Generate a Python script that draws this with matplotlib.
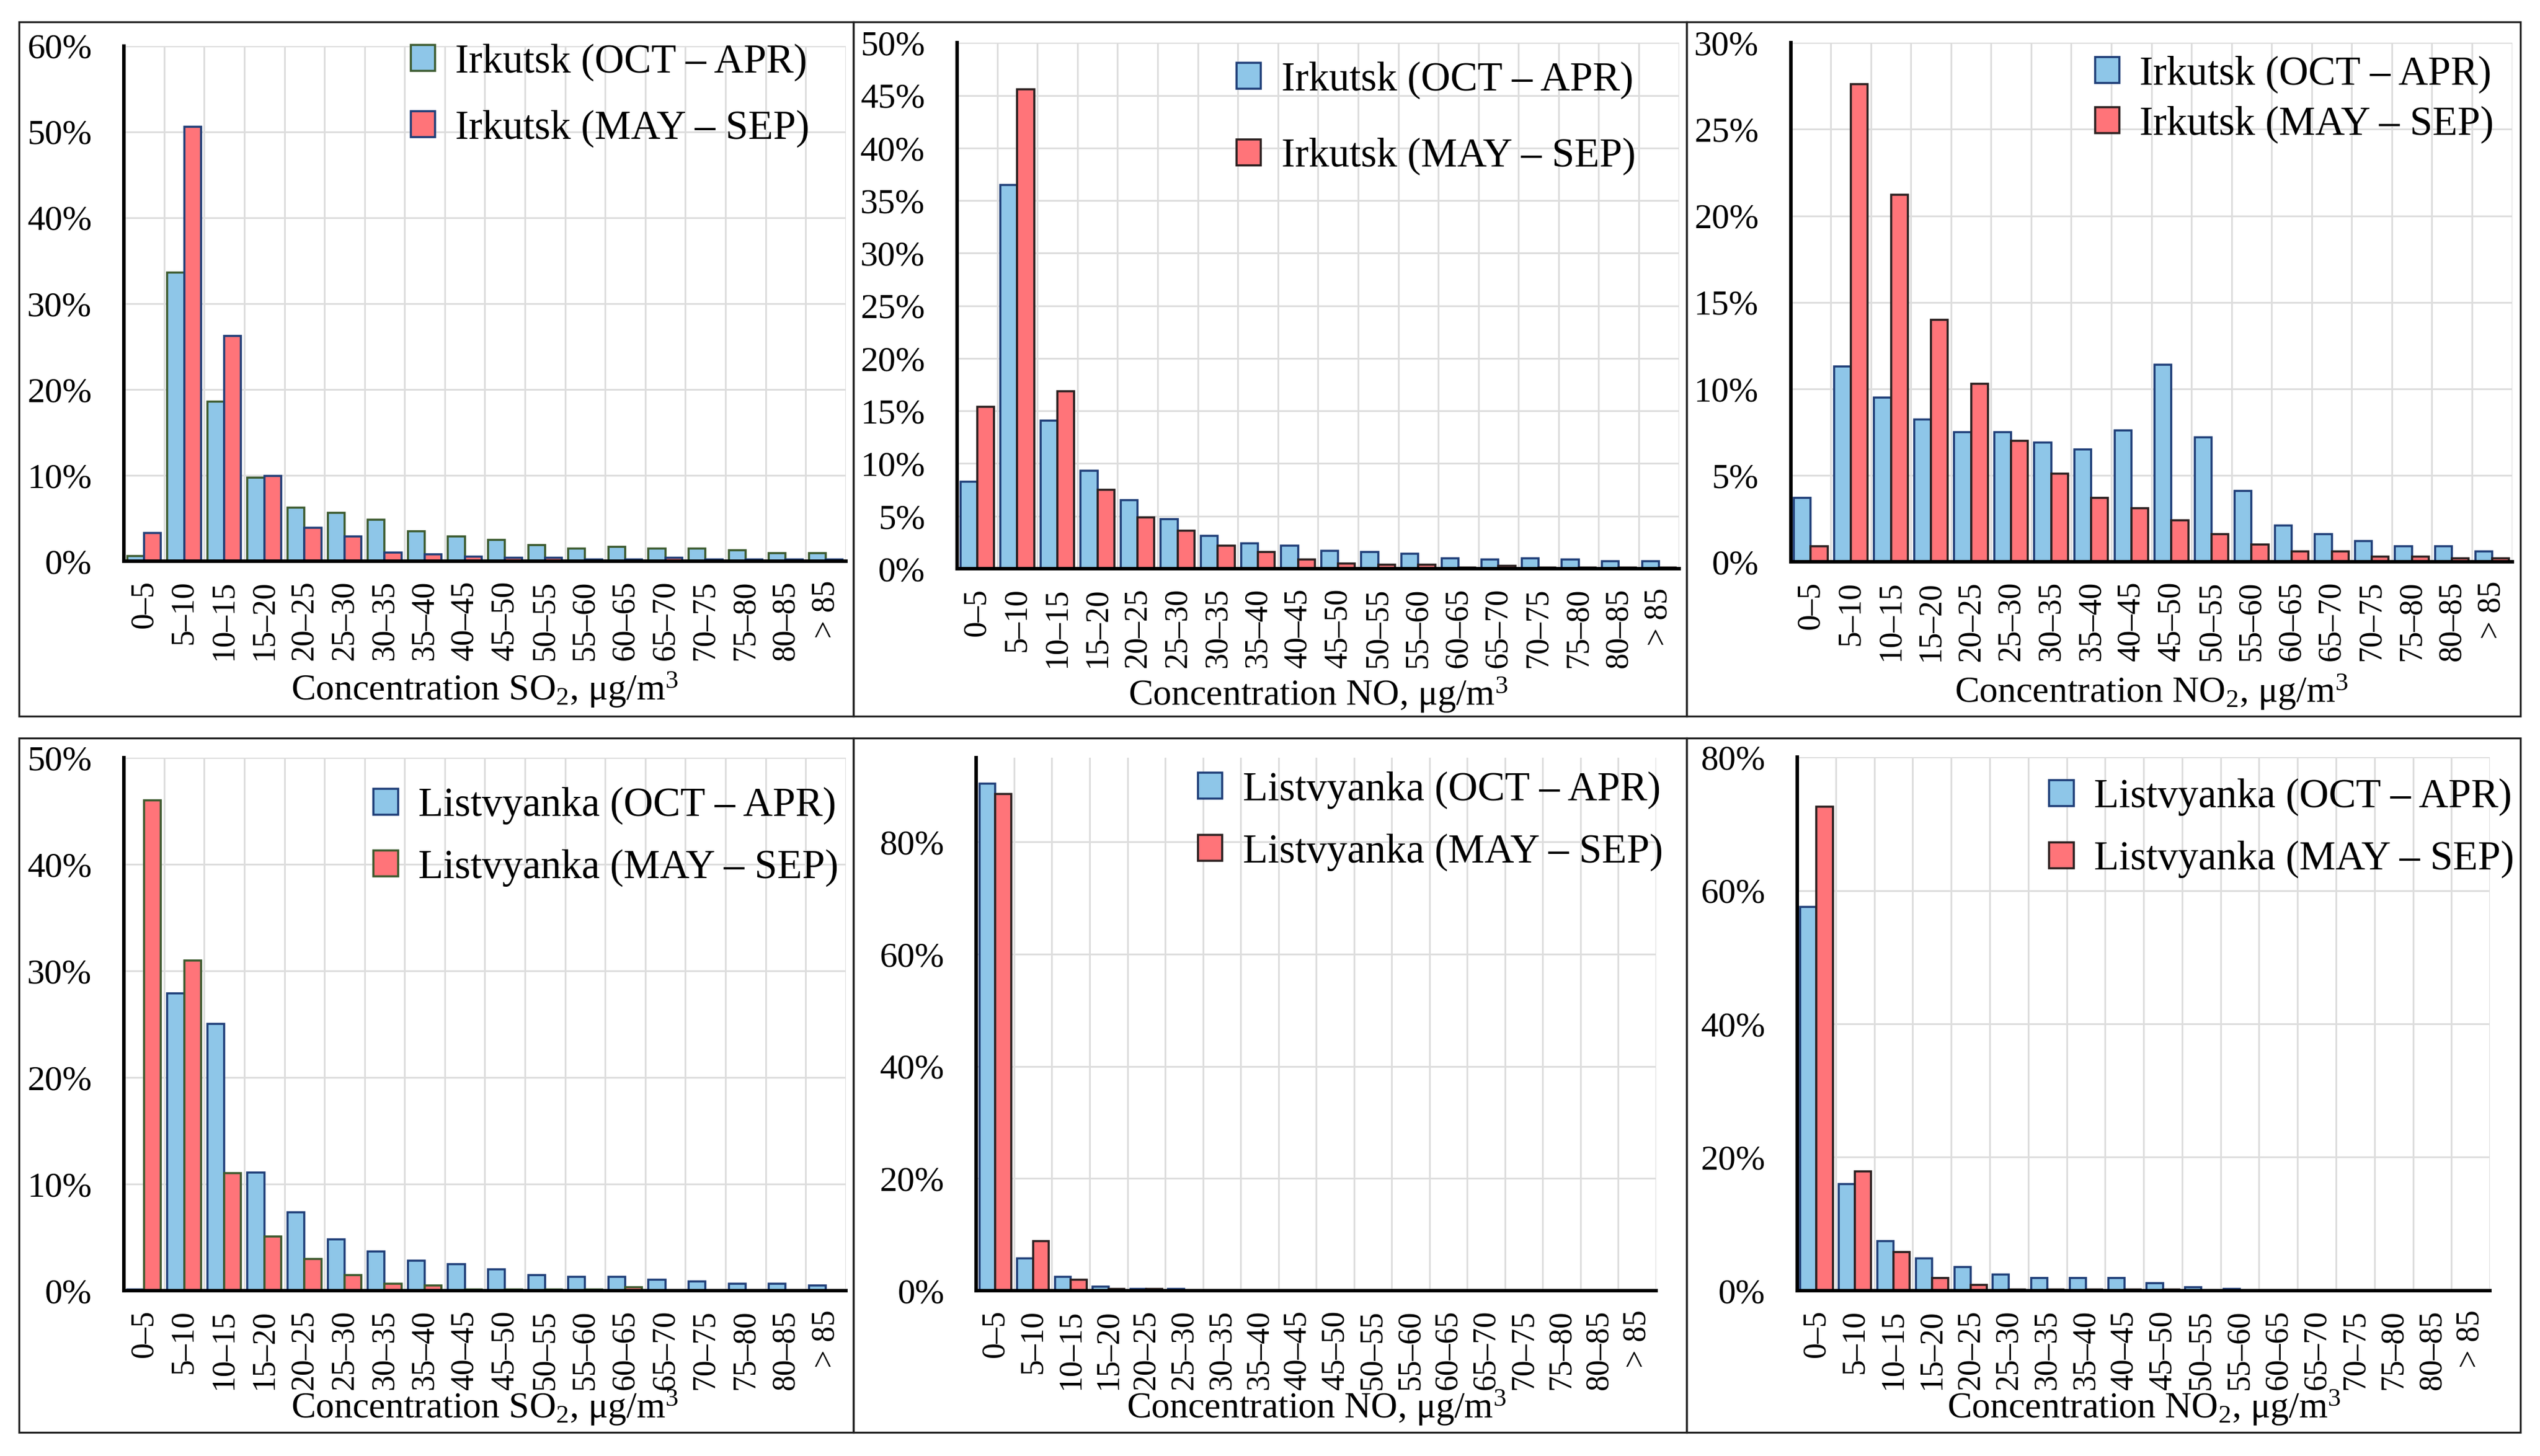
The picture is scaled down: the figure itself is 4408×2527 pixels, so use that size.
import matplotlib
matplotlib.use('Agg')
import matplotlib.pyplot as plt
import numpy as np
from matplotlib.patches import Rectangle
from matplotlib.ticker import PercentFormatter, MultipleLocator

plt.rcParams['font.family'] = ['Liberation Serif', 'DejaVu Serif']
plt.rcParams['mathtext.fontset'] = 'custom'
plt.rcParams['mathtext.rm'] = 'Liberation Serif'
plt.rcParams['mathtext.it'] = 'Liberation Serif:italic'

categories = ['0–5', '5–10', '10–15', '15–20', '20–25', '25–30', '30–35', '35–40', '40–45',
              '45–50', '50–55', '55–60', '60–65', '65–70', '70–75', '75–80', '80–85', '> 85']

# values in percent
irk_so2_cold = [0.6, 33.6, 18.6, 9.7, 6.2, 5.6, 4.8, 3.5, 2.9, 2.5, 1.9, 1.5, 1.7, 1.5, 1.5, 1.3, 0.9, 0.9]
irk_so2_warm = [3.3, 50.6, 26.2, 9.9, 3.9, 2.9, 1.0, 0.8, 0.5, 0.4, 0.4, 0.2, 0.2, 0.4, 0.2, 0.2, 0.2, 0.2]

irk_no_cold = [8.3, 36.5, 14.1, 9.3, 6.5, 4.7, 3.1, 2.4, 2.2, 1.7, 1.6, 1.4, 1.0, 0.9, 1.0, 0.9, 0.7, 0.7]
irk_no_warm = [15.4, 45.6, 16.9, 7.5, 4.9, 3.6, 2.2, 1.6, 0.9, 0.5, 0.4, 0.4, 0.1, 0.3, 0.1, 0.1, 0.1, 0.1]

irk_no2_cold = [3.7, 11.3, 9.5, 8.25, 7.5, 7.5, 6.9, 6.5, 7.6, 11.4, 7.2, 4.1, 2.1, 1.6, 1.2, 0.9, 0.9, 0.6]
irk_no2_warm = [0.9, 27.6, 21.2, 14.0, 10.3, 7.0, 5.1, 3.7, 3.1, 2.4, 1.6, 1.0, 0.6, 0.6, 0.3, 0.3, 0.2, 0.2]

lis_so2_cold = [0.1, 27.9, 25.0, 11.1, 7.35, 4.8, 3.65, 2.8, 2.5, 2.0, 1.45, 1.3, 1.3, 1.0, 0.85, 0.65, 0.65, 0.5]
lis_so2_warm = [46.0, 31.0, 11.0, 5.1, 2.95, 1.45, 0.65, 0.5, 0.1, 0.1, 0.1, 0.1, 0.3, 0, 0, 0, 0, 0]

lis_no_cold = [90.4, 5.7, 2.5, 0.7, 0.35, 0.3, 0, 0, 0, 0, 0, 0, 0, 0, 0, 0, 0, 0]
lis_no_warm = [88.5, 8.85, 1.9, 0.3, 0.3, 0.1, 0, 0, 0, 0, 0, 0, 0, 0, 0, 0, 0, 0]

lis_no2_cold = [57.5, 16.0, 7.45, 4.8, 3.5, 2.4, 1.9, 1.9, 1.9, 1.1, 0.55, 0.25, 0, 0, 0, 0, 0, 0]
lis_no2_warm = [72.6, 17.9, 5.8, 1.9, 0.85, 0.2, 0.15, 0.15, 0.15, 0.15, 0.1, 0, 0, 0, 0, 0, 0, 0]

blue = '#8EC6E8'
red = '#FF7479'
dkblue = '#1F3E78'
dkgreen = '#3C5A2E'
dkred = '#2A2020'

xlab_so2 = 'Concentration SO$_2$, μg/m$^3$'
xlab_no = 'Concentration NO, μg/m$^3$'
xlab_no2 = 'Concentration NO$_2$, μg/m$^3$'

# panel: axes rect, data, station, ymax, ystep, edge colors, legend anchor, label spacing, xlabel, xlabel y
panels = [
    ([0.0488, 0.6146, 0.2842, 0.3539], irk_so2_cold, irk_so2_warm, 'Irkutsk', 60, 10,
     dkgreen, dkblue, (0.95, 1.005), 0.7, xlab_so2, -0.25),
    ([0.3768, 0.6094, 0.2842, 0.3612], irk_no_cold, irk_no_warm, 'Irkutsk', 50, 5,
     dkblue, dkred, (0.94, 0.965), 0.95, xlab_no, -0.24),
    ([0.7050, 0.6140, 0.2840, 0.3567], irk_no2_cold, irk_no2_warm, 'Irkutsk', 30, 5,
     dkblue, dkred, (0.975, 0.975), 0.3, xlab_no2, -0.25),
    ([0.0488, 0.1136, 0.2842, 0.3660], lis_so2_cold, lis_so2_warm, 'Listvyanka', 50, 10,
     dkblue, dkgreen, (0.99, 0.945), 0.6, xlab_so2, -0.22),
    ([0.3844, 0.1136, 0.2676, 0.3660], lis_no_cold, lis_no_warm, 'Listvyanka', 95, 20,
     dkblue, dkred, (1.01, 0.975), 0.6, xlab_no, -0.22),
    ([0.7076, 0.1136, 0.2727, 0.3664], lis_no2_cold, lis_no2_warm, 'Listvyanka', 80, 20,
     dkblue, dkred, (1.035, 0.96), 0.6, xlab_no2, -0.22),
]

fig = plt.figure(figsize=(22.04, 12.635), dpi=200, facecolor='white')

# frames around each panel
for bx, by, bw, bh in [(0.0075, 0.508, 0.3285, 0.477), (0.336, 0.508, 0.328, 0.477),
                       (0.664, 0.508, 0.3283, 0.477), (0.0075, 0.0162, 0.3285, 0.4769),
                       (0.336, 0.0162, 0.328, 0.4769), (0.664, 0.0162, 0.3283, 0.4769)]:
    fig.add_artist(Rectangle((bx, by), bw, bh, transform=fig.transFigure, fill=False,
                             edgecolor='#222222', linewidth=1.2))

x = np.arange(len(categories))
w = 0.42

for rect, cold, warm, station, ymax, ystep, ec1, ec2, anchor, lspace, xlab, xlab_y in panels:
    ax = fig.add_axes(rect)
    ax.bar(x - w / 2, cold, width=w, color=blue, edgecolor=ec1, linewidth=1.3,
           label=station + ' (OCT – APR)', zorder=3)
    ax.bar(x + w / 2, warm, width=w, color=red, edgecolor=ec2, linewidth=1.3,
           label=station + ' (MAY – SEP)', zorder=3)

    ax.set_xlim(-0.5, len(categories) - 0.5)
    ax.set_ylim(0, ymax)
    ax.yaxis.set_major_locator(MultipleLocator(ystep))
    ax.yaxis.set_major_formatter(PercentFormatter(xmax=100, decimals=0))
    ax.set_xticks(x)
    ax.set_xticklabels(categories, rotation=90, fontsize=20)
    ax.set_xticks(np.arange(-0.5, len(categories)), minor=True)
    ax.tick_params(axis='x', which='both', length=0, pad=12)
    ax.tick_params(axis='y', length=0, pad=20, labelsize=22)

    ax.grid(axis='x', which='minor', color='#DDDDDD', linewidth=1.1, zorder=0)
    ax.grid(axis='y', which='major', color='#DDDDDD', linewidth=1.1, zorder=0)
    ax.set_axisbelow(True)

    for s in ['top', 'right']:
        ax.spines[s].set_visible(False)
    for s in ['left', 'bottom']:
        ax.spines[s].set_linewidth(2.2)
        ax.spines[s].set_color('black')
        ax.spines[s].set_zorder(4)

    ax.text(0.5, xlab_y, xlab, transform=ax.transAxes, ha='center', va='center', fontsize=23)

    ax.legend(loc='upper right', bbox_to_anchor=anchor, frameon=False, fontsize=25.5,
              borderpad=0, borderaxespad=0, handlelength=0.6, handleheight=0.6,
              handletextpad=0.5, labelspacing=lspace)

fig.savefig('out.png', dpi=200, facecolor='white')
